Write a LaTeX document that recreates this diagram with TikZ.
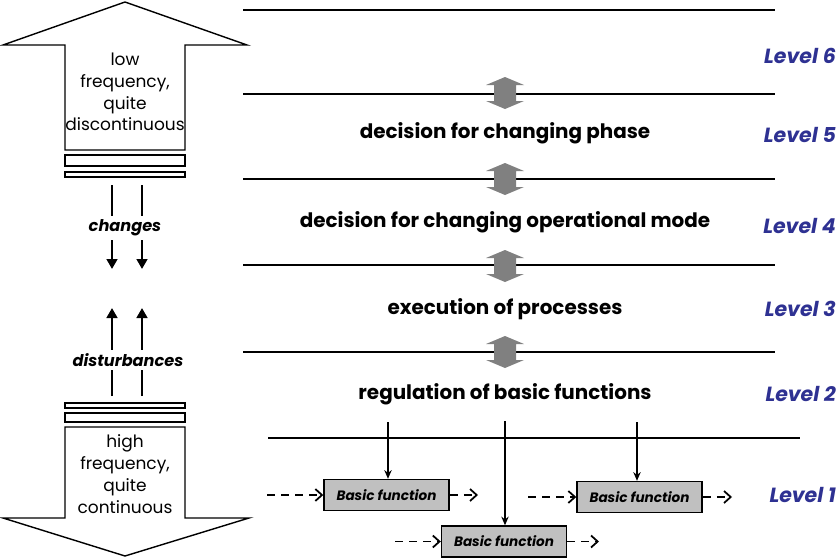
\documentclass[tikz,border=0pt]{standalone}
\usepackage{fontspec}
\setmainfont{Poppins}
\usetikzlibrary{arrows.meta,positioning}

\definecolor{levelblue}{HTML}{2E3192}
\definecolor{boxgray}{HTML}{C0C0C0}
\definecolor{linkgray}{HTML}{808080}

\begin{document}
\begin{tikzpicture}[
    x=0.03cm, y=-0.03cm,
    >={Stealth[length=2.6mm,width=2.2mm]},
    layer line/.style={
        line width=1.8pt
    },
    layer text/.style={
        font=\fontsize{17}{19}\selectfont\bfseries
    },
    level text/.style={
        font=\fontsize{17.5}{19}\selectfont\bfseries\itshape,
        text=levelblue,
        anchor=east
    },
    band text/.style={
        font=\fontsize{14.5}{18.6}\selectfont,
        align=center
    },
    flow text/.style={
        font=\fontsize{13.8}{15}\selectfont\bfseries\itshape,
        fill=white,
        inner sep=3pt
    },
    func box/.style={
        rectangle,
        draw,
        line width=1.2pt,
        fill=boxgray,
        minimum width=3.75cm,
        minimum height=0.93cm,
        font=\fontsize{11.6}{13}\selectfont\bfseries\itshape
    },
    feed/.style={
        -{Straight Barb[length=2mm,width=3.6mm]},
        dash pattern=on 7pt off 5pt,
        line width=1.5pt
    },
    flow/.style={
        -{Triangle[length=3mm,width=3.2mm]},
        line width=2.2pt
    }
]
\useasboundingbox (0,0) rectangle (840,559);

% Hierarchy lines
\draw[layer line] (243,10) -- (775,10);
\draw[layer line] (243,94) -- (775,94);
\draw[layer line] (243,179) -- (775,179);
\draw[layer line] (243,265) -- (775,265);
\draw[layer line] (243,352) -- (775,352);
\draw[layer line] (268,438) -- (800,438);

% Links between levels
\foreach \y in {93,179,266,352} {
    \fill[linkgray] (505,\y) ++(0,-16) -- ++(19,8) -- ++(-8,0) -- ++(0,16)
        -- ++(8,0) -- ++(-19,8) -- ++(-19,-8) -- ++(8,0) -- ++(0,-16)
        -- ++(-8,0) -- cycle;
}

% Level contents
\node[layer text] (phase) at (505,133) {decision for changing phase};
\node[layer text] (mode)  at (505,222) {decision for changing operational mode};
\node[layer text] (proc)  at (505,309) {execution of processes};
\node[layer text] (regul) at (505,394) {regulation of basic functions};

% Level labels
\node[level text] (lev6) at (840,56)  {Level 6};
\node[level text] (lev5) at (840,135) {Level 5};
\node[level text] (lev4) at (840,226) {Level 4};
\node[level text] (lev3) at (840,309) {Level 3};
\node[level text] (lev2) at (840,394) {Level 2};
\node[level text] (lev1) at (840,495) {Level 1};

% Basic functions
\node[func box] (bf1) at (386.5,495) {Basic function};
\node[func box] (bf2) at (639.5,497) {Basic function};
\node[func box] (bf3) at (504,541.5) {Basic function};

\coordinate (reg1) at (388,422);
\coordinate (reg2) at (505,421);
\coordinate (reg3) at (637,422);
\draw[->,line width=1.2pt] (reg1) -- (reg1 |- bf1.north);
\draw[->,line width=1.2pt] (reg2) -- (reg2 |- bf3.north);
\draw[->,line width=1.2pt] (reg3) -- (reg3 |- bf2.north);

\coordinate (in1) at (267,495);
\coordinate (out1) at (478,495);
\coordinate (in2) at (528,497);
\coordinate (out2) at (732,497);
\coordinate (in3) at (395,541.5);
\coordinate (out3) at (599,541.5);
\draw[feed] (in1) -- (bf1.west);
\draw[feed] (bf1.east) -- (out1);
\draw[feed] (in2) -- (bf2.west);
\draw[feed] (bf2.east) -- (out2);
\draw[feed] (in3) -- (bf3.west);
\draw[feed] (bf3.east) -- (out3);

% Upper band
\draw[line width=1.2pt] (65,150) -- (65,45) -- (3,45) -- (125,2) -- (247,45)
    -- (185,45) -- (185,150) -- cycle;
\draw[line width=1.2pt] (65,155) rectangle (185,166);
\draw[line width=1.2pt] (65,172) rectangle (185,177);
\node[band text] (low) at (125,92) {low\\frequency,\\quite\\discontinuous};

% Lower band
\draw[line width=1.2pt] (65,403) rectangle (185,408);
\draw[line width=1.2pt] (65,413) rectangle (185,422);
\draw[line width=1.2pt] (65,427) -- (65,518) -- (3,518) -- (125,556) -- (249,518)
    -- (185,518) -- (185,427) -- cycle;
\node[band text] (high) at (125,474) {high\\frequency,\\quite\\continuous};

% Changes and disturbances
\coordinate (chA) at (112,185);
\coordinate (chB) at (142,185);
\draw[flow] (chA) -- ++(0,84);
\draw[flow] (chB) -- ++(0,84);
\node[flow text] (chg) at (125,228) {changes};

\coordinate (diA) at (112,396);
\coordinate (diB) at (142,396);
\draw[flow] (diA) -- ++(0,-88);
\draw[flow] (diB) -- ++(0,-88);
\node[flow text] (dist) at (128,360) {disturbances};

\end{tikzpicture}
\end{document}
